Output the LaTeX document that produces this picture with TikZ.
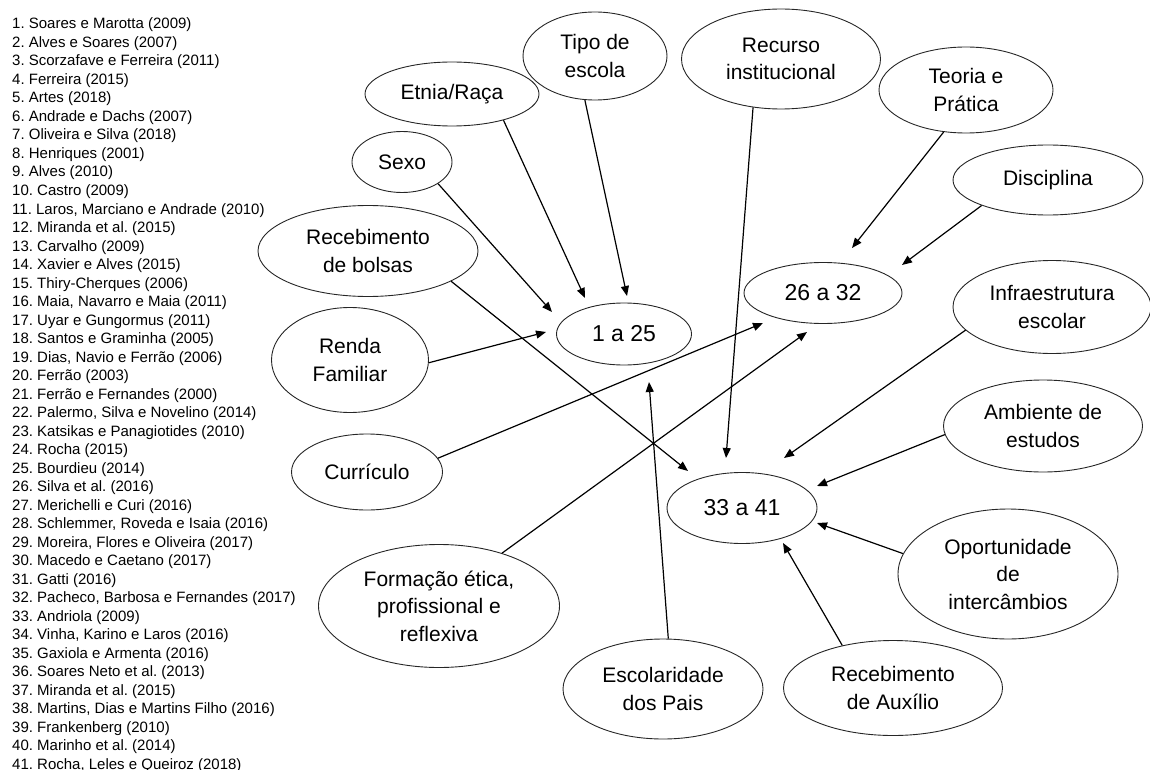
\documentclass[tikz,border=0pt]{standalone}
\usepackage{fontspec}
\setmainfont{Liberation Sans}
\usetikzlibrary{shapes.geometric,arrows.meta}
\frenchspacing
\tikzset{
  oval/.style={ellipse, draw=black!85, line width=0.9pt, inner sep=0pt, align=center,
    font=\fontsize{21}{27.5}\selectfont},
  hub/.style={oval, font=\fontsize{23}{28}\selectfont},
  arr/.style={line width=1.2pt, -{Triangle[length=10pt,width=8pt]}},
  reftxt/.style={anchor=base west, inner sep=0pt, font=\fontsize{15}{18}\selectfont}
}
\begin{document}
\begin{tikzpicture}[x=1pt,y=-1pt]
\useasboundingbox (0,0) rectangle (1150,770);

% reference list
\foreach \t [count=\i] in {
 {1. Soares e Marotta (2009)},
 {2. Alves e Soares (2007)},
 {3. Scorzafave e Ferreira (2011)},
 {4. Ferreira (2015)},
 {5. Artes (2018)},
 {6. Andrade e Dachs (2007)},
 {7. Oliveira e Silva (2018)},
 {8. Henriques (2001)},
 {9. Alves (2010)},
 {10. Castro (2009)},
 {11. Laros, Marciano e Andrade (2010)},
 {12. Miranda et al. (2015)},
 {13. Carvalho (2009)},
 {14. Xavier e Alves (2015)},
 {15. Thiry-Cherques (2006)},
 {16. Maia, Navarro e Maia (2011)},
 {17. Uyar e Gungormus (2011)},
 {18. Santos e Graminha (2005)},
 {19. Dias, Navio e Ferrão (2006)},
 {20. Ferrão (2003)},
 {21. Ferrão e Fernandes (2000)},
 {22. Palermo, Silva e Novelino (2014)},
 {23. Katsikas e Panagiotides (2010)},
 {24. Rocha (2015)},
 {25. Bourdieu (2014)},
 {26. Silva et al. (2016)},
 {27. Merichelli e Curi (2016)},
 {28. Schlemmer, Roveda e Isaia (2016)},
 {29. Moreira, Flores e Oliveira (2017)},
 {30. Macedo e Caetano (2017)},
 {31. Gatti (2016)},
 {32. Pacheco, Barbosa e Fernandes (2017)},
 {33. Andriola (2009)},
 {34. Vinha, Karino e Laros (2016)},
 {35. Gaxiola e Armenta (2016)},
 {36. Soares Neto et al. (2013)},
 {37. Miranda et al. (2015)},
 {38. Martins, Dias e Martins Filho (2016)},
 {39. Frankenberg (2010)},
 {40. Marinho et al. (2014)},
 {41. Rocha, Leles e Queiroz (2018)}}
 { \node[reftxt] (ref\i) at (12,{29+18.5*(\i-1)}) {\t}; }

% hubs
\node[hub, minimum width=135pt, minimum height=62pt] (n125) at (624,334) {1 a 25};
\node[hub, minimum width=158pt, minimum height=61pt] (n2632) at (823,293) {26 a 32};
\node[hub, minimum width=150pt, minimum height=71pt] (n3341) at (742,508) {33 a 41};

% factors
\node[oval, minimum width=144pt, minimum height=88pt] (tipo) at (595,56) {Tipo de\\escola};
\node[oval, minimum width=174pt, minimum height=64pt] (etnia) at (452,94) {Etnia/Raça};
\node[oval, minimum width=100pt, minimum height=61pt] (sexo) at (402,162) {Sexo};
\node[oval, minimum width=220pt, minimum height=91pt] (bolsas) at (368,251) {Recebimento\\de bolsas};
\node[oval, minimum width=157pt, minimum height=105pt] (renda) at (350,360) {Renda\\Familiar};
\node[oval, minimum width=199pt, minimum height=100pt] (recurso) at (781,59) {Recurso\\institucional};
\node[oval, minimum width=174pt, minimum height=86pt] (teoria) at (966,90) {Teoria e\\Prática};
\node[oval, minimum width=190pt, minimum height=70pt] (disc) at (1048,180) {Disciplina};
\node[oval, minimum width=198pt, minimum height=93pt] (infra) at (1052,307) {Infraestrutura\\escolar};
\node[oval, minimum width=199pt, minimum height=92pt] (ambiente) at (1043,426) {Ambiente de\\estudos};
\node[oval, minimum width=220pt, minimum height=130pt] (oport) at (1008,574) {Oportunidade\\de\\intercâmbios};
\node[oval, minimum width=219pt, minimum height=95pt] (auxilio) at (893,688) {Recebimento\\de Auxílio};
\node[oval, minimum width=200pt, minimum height=100pt] (escol) at (663,689) {Escolaridade\\dos Pais};
\node[oval, minimum width=241pt, minimum height=123pt] (formacao) at (439,606) {Formação ética,\\profissional e\\reflexiva};
\node[oval, minimum width=151pt, minimum height=76pt] (curr) at (367,472) {Currículo};

% arrow end points near the hubs
\coordinate (eSexo) at (552,312);
\coordinate (eEtnia) at (585,298);
\coordinate (eTipo) at (627,296);
\coordinate (eRenda) at (546,332);
\coordinate (eEscol) at (649,382);
\coordinate (eBolsas) at (688,471);
\coordinate (eCurr) at (763,323);
\coordinate (eForm) at (807,332);
\coordinate (eRecurso) at (726,458);
\coordinate (eTeoria) at (852,248);
\coordinate (eDisc) at (902,265);
\coordinate (eInfra) at (784,458);
\coordinate (eAmb) at (817,486);
\coordinate (eOport) at (817,523);
\coordinate (eAux) at (783,543);

% connectors
\draw[arr] (sexo.-31) -- (eSexo);
\draw[arr] (etnia.-27) -- (eEtnia);
\draw[arr] (tipo.-103) -- (eTipo);
\draw[arr] (renda.-2) -- (eRenda);
\draw[arr] (escol.84) -- (eEscol);
\draw[arr] (bolsas.-20) -- (eBolsas);
\draw[arr] (curr.11) -- (eCurr);
\draw[arr] (formacao.40) -- (eForm);
\draw[arr] (recurso.-120) -- (eRecurso);
\draw[arr] (teoria.-118) -- (eTeoria);
\draw[arr] (disc.-159) -- (eDisc);
\draw[arr] (infra.-165) -- (eInfra);
\draw[arr] (ambiente.-175) -- (eAmb);
\draw[arr] (oport.169) -- (eOport);
\draw[arr] (auxilio.140) -- (eAux);
\end{tikzpicture}
\end{document}
